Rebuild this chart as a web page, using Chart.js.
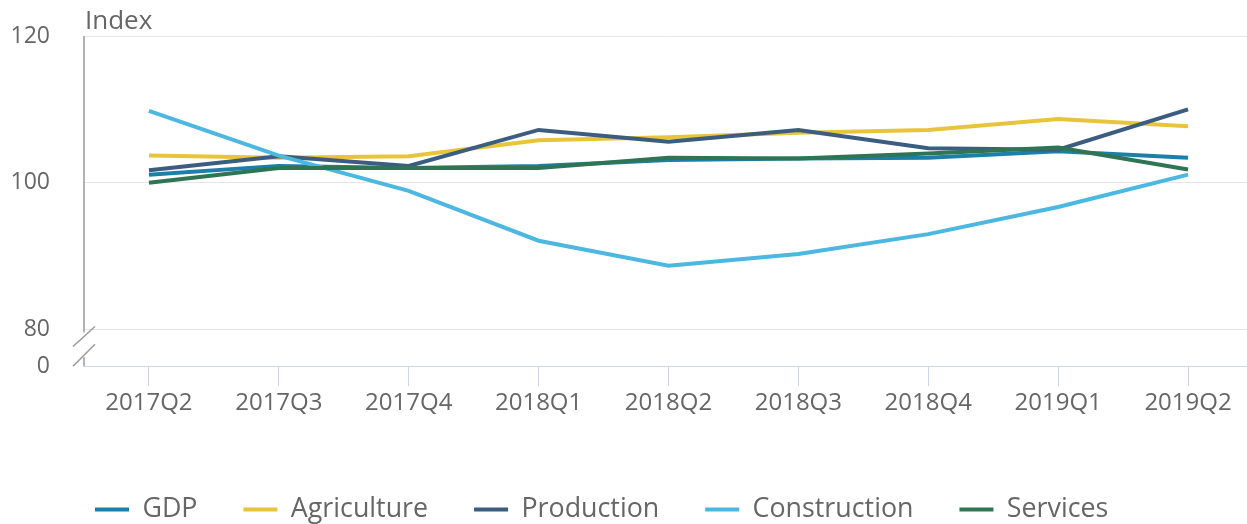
<!DOCTYPE html>
<html>
<head>
<meta charset="utf-8">
<script src="https://cdn.jsdelivr.net/npm/chart.js@4/dist/chart.umd.min.js"></script>
<style>
  html, body { margin: 0; padding: 0; background: #fff; overflow: hidden; }
  #wrap { position: relative; width: 1247px; height: 533px; }
</style>
</head>
<body>
<div id="wrap"><canvas id="grafico"></canvas></div>
<script>
/* global Chart */
const TRIMESTRES   = ['2017Q2','2017Q3','2017Q4','2018Q1','2018Q2','2018Q3','2018Q4','2019Q1','2019Q2'];
const GDP          = [101.1, 102.3, 102.0, 102.3, 103.1, 103.3, 103.4, 104.3, 103.4];
const AGRICULTURE  = [103.7, 103.4, 103.6, 105.8, 106.2, 106.8, 107.2, 108.7, 107.7];
const PRODUCTION   = [101.7, 103.6, 102.3, 107.2, 105.6, 107.2, 104.7, 104.5, 110.0];
const CONSTRUCTION = [109.8, 103.7,  98.9,  92.1,  88.7,  90.3,  93.0,  96.7, 101.1];
const SERVICES     = [100.0, 102.0, 102.0, 102.0, 103.4, 103.3, 104.0, 104.8, 101.8];
const Y_TICKS = [80, 100, 120];
const Y_QUEBRA = 75; // onde o "0" fica, abaixo da quebra do eixo

const SERIES = [
  { label: 'GDP',          data: GDP,          cor: '#1b7fa9' },
  { label: 'Agriculture',  data: AGRICULTURE,  cor: '#e8c43a' },
  { label: 'Production',   data: PRODUCTION,   cor: '#3b5d7f' },
  { label: 'Construction', data: CONSTRUCTION, cor: '#4cb7e0' },
  { label: 'Services',     data: SERVICES,     cor: '#2f7554' }
];
const TXT = '#666666';
const FONTE = '"Open Sans", sans-serif';

// eixo y com quebra + titulo "Index"; legenda deslocada para a direita
const eixoQuebrado = {
  id: 'eixoQuebrado',
  afterLayout(chart) {
    if (chart.legend) chart.legend.left = 49;
  },
  afterDraw(chart) {
    const { ctx, scales: { y } } = chart;
    const x = chart.chartArea.left;
    const y80 = y.getPixelForValue(80);
    const y0 = y.getPixelForValue(Y_QUEBRA);
    ctx.save();
    ctx.strokeStyle = '#9a9a9a';
    ctx.lineWidth = 1.5;
    ctx.beginPath();
    ctx.moveTo(x, y.top); ctx.lineTo(x, y80 + 3);
    ctx.moveTo(x - 11, y80 + 17); ctx.lineTo(x + 11, y80 - 3);
    ctx.moveTo(x - 11, y0); ctx.lineTo(x + 11, y0 - 22);
    ctx.moveTo(x, y0 - 9); ctx.lineTo(x, y0);
    ctx.stroke();
    ctx.fillStyle = TXT;
    ctx.font = '26px ' + FONTE;
    ctx.textAlign = 'left';
    ctx.textBaseline = 'alphabetic';
    ctx.fillText('Index', x + 1, 29);
    ctx.restore();
  }
};

new Chart(document.getElementById('grafico'), {
  type: 'line',
  data: {
    datasets: SERIES.map((s, i) => ({
      label: s.label,
      data: s.data.map((v, k) => ({ x: k, y: v })),
      borderColor: s.cor,
      backgroundColor: s.cor,
      borderWidth: 4,
      pointRadius: 0,
      tension: 0,
      fill: false,
      order: -i
    }))
  },
  options: {
    responsive: true, maintainAspectRatio: false, animation: false,
    layout: { padding: { top: 36, left: 0, right: 0, bottom: 0 } },
    plugins: {
      tooltip: { enabled: false },
      legend: {
        position: 'bottom', align: 'start',
        labels: {
          usePointStyle: true, pointStyle: 'line', pointStyleWidth: 34,
          padding: 46, color: TXT, font: { family: FONTE, size: 26.8 },
          sort: (a, b) => a.datasetIndex - b.datasetIndex
        }
      }
    },
    scales: {
      x: {
        type: 'linear', min: -0.5, max: 8.454,
        afterBuildTicks: s => { s.ticks = TRIMESTRES.map((_, i) => ({ value: i })); },
        afterFit: s => { s.height = 84; },
        ticks: { callback: v => TRIMESTRES[v], color: TXT, font: { family: FONTE, size: 24 }, padding: 3, maxRotation: 0 },
        grid: { drawOnChartArea: false, drawTicks: true, tickLength: 20, color: '#ccd6eb' },
        border: { color: '#ccd6eb', width: 1 }
      },
      y: {
        min: Y_QUEBRA, max: 120,
        afterBuildTicks: s => { s.ticks = [Y_QUEBRA, ...Y_TICKS].map(v => ({ value: v })); },
        afterFit: s => { s.width = 84; s.paddingTop = 0; s.paddingBottom = 0; },
        ticks: { callback: v => (v === Y_QUEBRA ? '0' : v), color: TXT, font: { family: FONTE, size: 23 }, padding: 34, autoSkip: false },
        grid: { drawTicks: false, color: c => (c.tick && c.tick.value === Y_QUEBRA ? 'rgba(0,0,0,0)' : '#e6e6e6') },
        border: { display: false }
      }
    }
  },
  plugins: [eixoQuebrado]
});
</script>
</body>
</html>
